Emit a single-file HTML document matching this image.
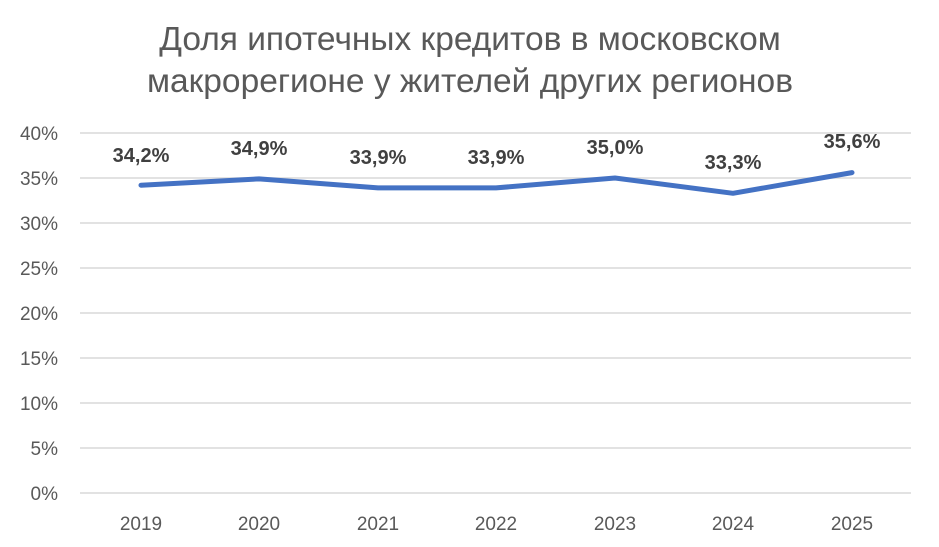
<!DOCTYPE html><html><head><meta charset="utf-8"><style>body{margin:0;background:#fff}svg{display:block}</style></head><body>
<svg width="939" height="547" xmlns="http://www.w3.org/2000/svg" font-family="Liberation Sans, sans-serif">
<rect width="939" height="547" fill="#fff"/>
<g fill="#595959" font-size="33.5" text-anchor="middle">
<text x="470" y="50">Доля ипотечных кредитов в московском</text>
<text x="470" y="92">макрорегионе у жителей других регионов</text>
</g>
<g stroke="#d9d9d9" stroke-width="1.5">
<line x1="80" x2="911" y1="133" y2="133"/><line x1="80" x2="911" y1="178" y2="178"/><line x1="80" x2="911" y1="223" y2="223"/><line x1="80" x2="911" y1="268" y2="268"/><line x1="80" x2="911" y1="313" y2="313"/><line x1="80" x2="911" y1="358" y2="358"/><line x1="80" x2="911" y1="403" y2="403"/><line x1="80" x2="911" y1="448" y2="448"/><line x1="80" x2="911" y1="493" y2="493"/>
</g>
<g fill="#595959" font-size="19" text-anchor="end">
<text x="58" y="140">40%</text><text x="58" y="185">35%</text><text x="58" y="230">30%</text><text x="58" y="275">25%</text><text x="58" y="320">20%</text><text x="58" y="365">15%</text><text x="58" y="410">10%</text><text x="58" y="455">5%</text><text x="58" y="500">0%</text>
</g>
<g fill="#595959" font-size="19" text-anchor="middle">
<text x="141" y="530">2019</text><text x="259" y="530">2020</text><text x="378" y="530">2021</text><text x="496" y="530">2022</text><text x="615" y="530">2023</text><text x="733" y="530">2024</text><text x="852" y="530">2025</text>
</g>
<polyline fill="none" stroke="#4472c4" stroke-width="5" stroke-linecap="round" stroke-linejoin="round" points="141,185.2 259,178.9 378,187.9 496,187.9 615,178 733,193.3 852,172.6"/>
<g fill="#404040" font-size="20" font-weight="bold" text-anchor="middle">
<text x="141" y="162">34,2%</text><text x="259" y="155">34,9%</text><text x="378" y="164">33,9%</text><text x="496" y="164">33,9%</text><text x="615" y="154">35,0%</text><text x="733" y="169">33,3%</text><text x="852" y="148">35,6%</text>
</g>
</svg></body></html>
